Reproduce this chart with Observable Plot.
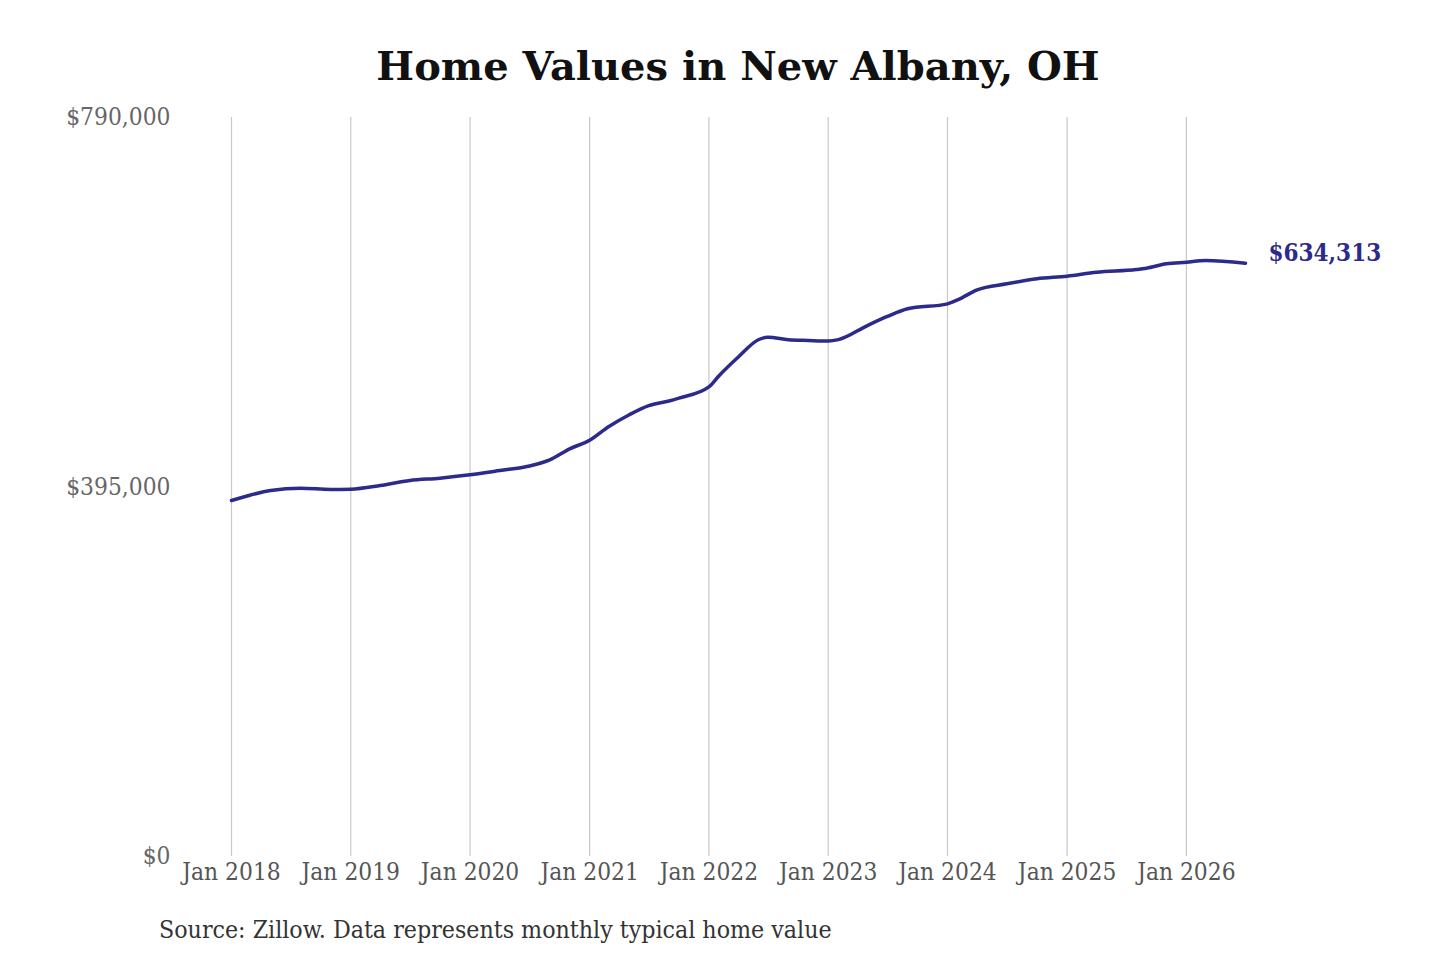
<!DOCTYPE html>
<html>
<head>
<meta charset="utf-8">
<script src="https://cdn.jsdelivr.net/npm/d3@7"></script>
<script src="https://cdn.jsdelivr.net/npm/@observablehq/plot@0.6"></script>
<style>
  html, body { margin: 0; padding: 0; background: #fff; }
  #wrap { position: relative; width: 1440px; height: 960px; overflow: hidden; }
  #title { position: absolute; left: 0; width: 1476px; top: 42px; text-align: center;
    font-family: "DejaVu Serif", serif; font-weight: bold; font-size: 40px; color: #111; }
  #caption { position: absolute; left: 159px; top: 915px; line-height: 30px;
    font-family: "DejaVu Serif", serif; font-stretch: condensed; font-size: 24.7px; color: #333; }
  #chart { position: absolute; left: 0; top: 0; }
  #chart svg text { font-stretch: condensed; }
</style>
</head>
<body>
<div id="wrap">
  <div id="chart"></div>
  <div id="title">Home Values in New Albany, OH</div>
  <div id="caption">Source: Zillow. Data represents monthly typical home value</div>
</div>
<script>
const dates = ["2018-01","2018-03","2018-05","2018-08","2018-11","2019-01","2019-04","2019-07","2019-10",
  "2020-01","2020-04","2020-07","2020-09","2020-11","2021-01","2021-03","2021-05","2021-07","2021-09",
  "2021-10","2022-01","2022-02","2022-04","2022-06","2022-07","2022-09","2022-11","2023-01","2023-02",
  "2023-05","2023-07","2023-09","2024-01","2024-02","2024-04","2024-07","2024-10","2025-01","2025-04",
  "2025-08","2025-09","2025-11","2026-01","2026-03","2026-07"];
const values = [380600,386500,391300,393700,392300,392700,396600,402000,404400,
  408000,412600,417500,424000,435800,445000,459700,472000,482000,487000,
  490000,502000,514000,534000,552400,555200,552400,551600,551000,552500,
  567600,577300,585500,590800,595000,605800,612200,617600,620400,624600,
  627500,628900,633600,635300,637000,634313];
const yTicks = [0, 395000, 790000];
const xTickYears = [2018, 2019, 2020, 2021, 2022, 2023, 2024, 2025, 2026];
const endLabel = "$634,313";

const parse = d3.utcParse("%Y-%m");
const data = dates.map((d, i) => ({date: parse(d), value: values[i]}));
const xTicks = xTickYears.map(y => new Date(Date.UTC(y, 0, 1)));
const last = data[data.length - 1];
const lineColor = "#2c2a8a";

const chart = Plot.plot({
  width: 1440,
  height: 960,
  marginTop: 117,
  marginBottom: 104,
  marginLeft: 231,
  marginRight: 195,
  style: {fontFamily: "'DejaVu Serif', serif", fontSize: "24px", background: "transparent"},
  x: {type: "utc", domain: [data[0].date, last.date]},
  y: {domain: [0, 790000]},
  marks: [
    Plot.ruleX(xTicks, {stroke: "#c8c8c8", strokeWidth: 1.2, y1: 0, y2: 790000}),
    Plot.axisX({ticks: xTicks, tickSize: 0, tickPadding: 6, tickFormat: d3.utcFormat("Jan %Y"), fill: "#555", fontSize: 24.3, label: null}),
    Plot.axisY({ticks: yTicks, tickSize: 0, tickPadding: 61, tickFormat: d => "$" + d3.format(",")(d), fill: "#666", fontSize: 24.3, label: null}),
    Plot.lineY(data, {x: "date", y: "value", stroke: lineColor, strokeWidth: 3.5, curve: "monotone-x"}),
    Plot.text([last], {x: "date", y: "value", text: () => endLabel, dx: 23, dy: -10, textAnchor: "start",
      fill: lineColor, fontWeight: "bold", fontSize: 24})
  ]
});
document.getElementById("chart").appendChild(chart);
</script>
</body>
</html>
